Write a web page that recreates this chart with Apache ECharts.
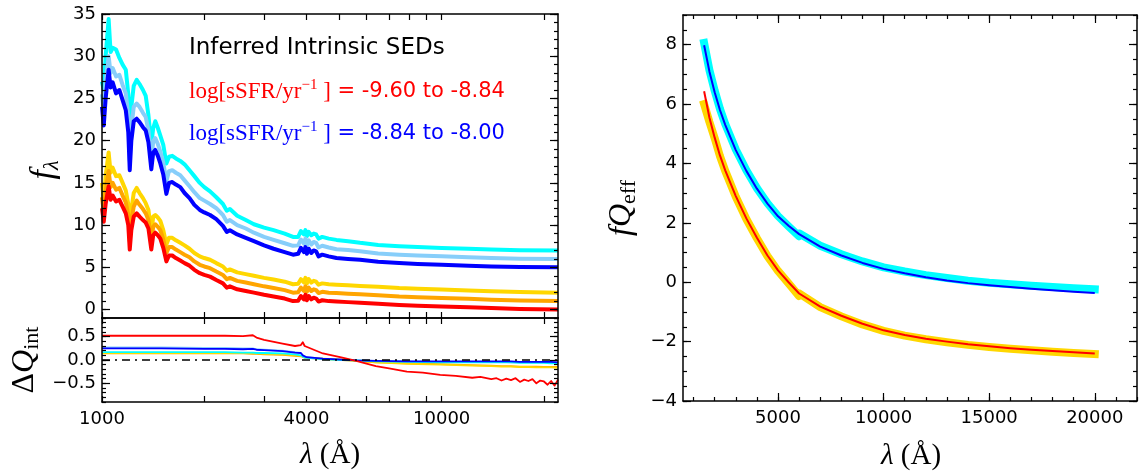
<!DOCTYPE html>
<html><head><meta charset="utf-8">
<script src="https://cdn.jsdelivr.net/npm/echarts@6/dist/echarts.min.js"></script>
<style>html,body{margin:0;padding:0;background:#fff}#c{width:1139px;height:472px}</style>
</head><body><div id="c"></div>
<script>
// ---------- Left top panel: intrinsic SEDs ----------
const lamSED = [1000,1012,1025,1046,1060,1075,1100,1125,1150,1175,1195,1207,1220,1240,1265,1290,1320,1345,1370,1397,1415,1435,1460,1485,1515,1547,1575,1610,1650,1700,1750,1810,1870,1940,2000,2080,2170,2270,2330,2380,2500,2650,2800,3000,3200,3450,3650,3780,3850,3930,3970,4010,4060,4130,4200,4270,4340,4450,4650,4900,5300,5750,6500,7500,8500,10000,12000,14000,17000,22000];
const sedCyan = [27.0,26.0,30.0,34.4,30.5,31.0,30.8,29.8,29.0,28.4, 25.5,19.8,24.0,26.5,27.2,26.7,26.0,25.3,23.0,19.5, 21.5,22.3,21.5,20.6,19.5,17.3,18.1,18.2,17.9,17.6, 17.2,16.5,15.8,15.0,14.5,14.0,13.3,12.5,11.7,11.9, 11.1,10.6,10.1,9.7,9.4,9.0,8.6,8.6,9.3,8.9, 9.4,8.7,9.2,8.8,9.0,8.9,8.4,8.6,8.4,8.25, 8.1,7.9,7.65,7.5,7.4,7.3,7.2,7.1,7.03,7.0];
const sedLightBlue = [25.5,23.5,27.0,30.0,28.0,28.6,27.6,27.8,26.6,25.6, 23.0,17.6,21.5,24.0,24.4,24.0,23.3,22.8,21.2,17.7, 19.9,20.3,19.6,18.7,17.4,15.2,16.4,16.5,16.2,15.9, 15.3,14.6,13.9,13.2,12.9,12.5,12.0,11.2,10.4,10.6, 10.0,9.6,9.1,8.6,8.25,7.85,7.55,7.6,8.3,7.8, 8.4,7.6,8.2,7.7,8.0,7.9,7.35,7.55,7.35,7.15, 7.05,6.9,6.65,6.5,6.4,6.3,6.2,6.1,6.03,6.0];
const sedBlue = [24.0,21.8,25.0,28.4,26.3,26.9,25.6,26.0,24.8,23.6, 21.0,16.5,20.0,22.3,22.6,22.2,21.6,21.2,19.8,16.6, 18.6,18.9,18.2,17.3,16.0,13.7,15.0,15.1,14.8,14.5, 13.8,13.2,12.4,11.8,11.5,11.2,10.7,9.9,9.2,9.4, 8.9,8.5,8.1,7.6,7.2,6.8,6.5,6.6,7.3,6.8, 7.4,6.6,7.2,6.7,7.0,6.9,6.3,6.5,6.3,6.1, 6.0,5.9,5.65,5.5,5.4,5.3,5.2,5.1,5.03,5.0];
const sedGold = [15.0,13.0,15.8,18.6,16.2,16.8,15.8,15.9,15.0,14.1, 12.5,9.2,11.8,13.8,14.4,13.8,13.2,12.6,11.8,9.1, 11.0,11.2,10.9,10.5,9.4,7.7,8.5,8.5,8.2,7.9, 7.6,7.2,6.7,6.3,6.1,5.9,5.5,5.1,4.6,4.75, 4.4,4.2,4.0,3.75,3.55,3.3,3.0,3.05,3.6,3.2, 3.75,3.1,3.6,3.2,3.4,3.3,2.95,3.1,3.0,2.95, 2.88,2.8,2.7,2.55,2.47,2.37,2.27,2.17,2.08,2.0];
const sedOrange = [13.3,11.6,14.0,16.4,14.5,15.0,14.2,14.4,13.5,12.7, 11.2,8.1,10.5,12.2,12.9,12.4,11.9,11.4,10.6,8.1, 9.8,10.1,9.8,9.4,8.3,6.7,7.4,7.4,7.1,6.8, 6.5,6.2,5.7,5.3,5.1,4.9,4.5,4.1,3.6,3.75, 3.4,3.2,3.0,2.75,2.55,2.3,2.0,2.05,2.6,2.2, 2.75,2.1,2.6,2.2,2.4,2.3,1.95,2.1,2.0,1.95, 1.88,1.8,1.7,1.55,1.47,1.37,1.27,1.17,1.08,1.0];
const sedRed = [12.0,10.4,12.5,14.6,13.0,13.5,12.8,13.0,12.2,11.4, 10.0,7.1,9.4,11.0,11.4,11.0,10.6,10.3,9.6,7.1, 8.8,9.1,8.8,8.4,7.3,5.7,6.4,6.4,6.1,5.8, 5.5,5.2,4.7,4.3,4.1,3.9,3.5,3.1,2.6,2.75, 2.4,2.2,2.0,1.75,1.55,1.3,1.0,1.05,1.6,1.2, 1.75,1.1,1.6,1.2,1.4,1.3,0.95,1.1,1.0,0.95, 0.88,0.8,0.7,0.55,0.46,0.36,0.26,0.17,0.08,0.0];

// ---------- Left bottom panel: Delta Q_int ----------
const lamDQ = [1000,1500,2000,2300,2600,2780,2850,3000,3400,3700,3850,3900,3950,4000,4470,5100,5600,6400,7900,9900,12300,14000,15000,16000,17000,18000,19000,20000,21000,22000];
const dqBlue = [0.25,0.25,0.24,0.24,0.23,0.24,0.22,0.21,0.19,0.16,0.15,0.10,0.08,0.06,0.03,0.01,-0.01,-0.02,-0.03,-0.03,-0.03,-0.03,-0.03,-0.03,-0.04,-0.04,-0.04,-0.04,-0.04,-0.05];
const dqLightBlue = [0.27,0.27,0.26,0.26,0.25,0.25,0.23,0.22,0.20,0.17,0.15,0.10,0.08,0.06,0.03,0.01,-0.01,-0.02,-0.03,-0.04,-0.04,-0.04,-0.04,-0.05,-0.05,-0.05,-0.05,-0.05,-0.06,-0.06];
const dqCyan = [0.17,0.17,0.17,0.17,0.16,0.16,0.15,0.15,0.14,0.12,0.10,0.06,0.05,0.04,0.02,0.00,-0.01,-0.03,-0.04,-0.05,-0.05,-0.05,-0.05,-0.05,-0.06,-0.06,-0.06,-0.06,-0.07,-0.07];
const dqGold = [0.15,0.15,0.15,0.15,0.15,0.14,0.14,0.13,0.12,0.10,0.09,0.06,0.05,0.05,0.03,0.01,-0.02,-0.05,-0.08,-0.10,-0.12,-0.13,-0.14,-0.14,-0.15,-0.15,-0.16,-0.16,-0.16,-0.17];
const dqOrange = [0.14,0.14,0.14,0.14,0.14,0.13,0.13,0.12,0.11,0.09,0.08,0.05,0.05,0.04,0.02,0.00,-0.02,-0.05,-0.07,-0.09,-0.11,-0.12,-0.13,-0.13,-0.14,-0.14,-0.14,-0.15,-0.15,-0.15];
const lamDQRed = [1000,1500,2000,2300,2600,2780,2850,3000,3400,3700,3850,3900,3950,4000,4470,5100,5600,6400,7000,7900,8800,9900,11000,12300,13000,14000,14500,15000,15500,16000,16500,17000,17500,18000,18500,19000,19500,20000,20500,21000,21500,22000];
const dqRed = [0.52,0.52,0.52,0.52,0.51,0.53,0.48,0.43,0.35,0.30,0.32,0.38,0.30,0.27,0.14,0.05,-0.02,-0.13,-0.18,-0.25,-0.27,-0.32,-0.34,-0.38,-0.36,-0.41,-0.39,-0.44,-0.40,-0.43,-0.39,-0.47,-0.42,-0.45,-0.41,-0.50,-0.44,-0.46,-0.53,-0.45,-0.55,-0.42];
const lamZero = [1000,22000];
const zeroLine = [0,0];

// ---------- Right panel: f Q_eff ----------
const lamQ = [1500,1750,2000,2250,2500,3000,3500,4000,4500,5000,5500,6000,7000,8000,9000,10000,11000,12000,13000,14000,15000,16000,17000,18000,19000,20000];
const qBlue = [7.98,7.1,6.4,5.8,5.3,4.45,3.75,3.15,2.65,2.22,1.9,1.62,1.2,0.9,0.65,0.45,0.3,0.17,0.06,-0.03,-0.1,-0.16,-0.22,-0.27,-0.32,-0.36];
const qRed = [6.43,5.55,4.87,4.27,3.77,2.9,2.15,1.5,0.9,0.4,0.0,-0.38,-0.82,-1.13,-1.4,-1.62,-1.78,-1.9,-2.0,-2.09,-2.16,-2.22,-2.27,-2.32,-2.36,-2.4];
// thick bands: a small step where the two pieces meet near 6000
const lamQBand = [1500,1750,2000,2250,2500,3000,3500,4000,4500,5000,5500,5990,6010,7000,8000,9000,10000,11000,12000,13000,14000,15000,16000,17000,18000,19000,20000];
const qCyan = [8.06,7.15,6.45,5.84,5.33,4.47,3.77,3.17,2.66,2.23,1.88,1.55,1.64,1.23,0.94,0.7,0.5,0.36,0.24,0.14,0.05,-0.02,-0.07,-0.12,-0.16,-0.2,-0.24];
const qGold = [6.0,5.4,4.85,4.25,3.75,2.88,2.13,1.48,0.88,0.38,-0.04,-0.46,-0.38,-0.84,-1.15,-1.42,-1.64,-1.8,-1.92,-2.02,-2.11,-2.18,-2.24,-2.29,-2.34,-2.38,-2.42];

// ---------- Tick values ----------
const leftXTicks = [1000,2000,3000,4000,5000,6000,7000,8000,9000,10000,20000];
const leftXLabels = [1000,4000,10000];
const sedYLabels = [0,5,10,15,20,25,30,35];
const sedYMinor = []; for (let v = -1; v <= 35; v++) sedYMinor.push(v);
const dqYLabels = [-0.5,0,0.5];
const dqYMinor = []; for (let i = -9; i <= 9; i++) dqYMinor.push(i/10);
const rightXLabels = [5000,10000,15000,20000];
const rightXMinor = []; for (let v = 1000; v <= 22000; v += 1000) rightXMinor.push(v);
const rightYLabels = [-4,-2,0,2,4,6,8];
const rightYMinor = []; for (let i = -8; i <= 18; i++) rightYMinor.push(i/2);

const zip = (xs, ys) => xs.map((x, i) => [x, ys[i]]);
const minus = s => s.replace('-', '\u2212');

function axis(o) {
  const a = {
    type: o.type || 'value', gridIndex: o.grid, position: o.pos, min: o.min, max: o.max,
    axisLine: {show: o.line !== false, onZero: false, lineStyle: {color: '#000', width: 1.5}},
    axisTick: o.ticks ? {show: true, inside: true, length: o.len, customValues: o.ticks, lineStyle: {color: '#000', width: 1.2}} : {show: false},
    axisLabel: o.labels ? {show: true, customValues: o.labels, formatter: o.fmt, color: '#000', fontFamily: 'DejaVu Sans', fontSize: 18, margin: o.margin} : {show: false},
    splitLine: {show: false}, minorTick: {show: false}, minorSplitLine: {show: false},
    axisPointer: {show: false}, silent: true, z: 10
  };
  if (a.type === 'log') a.logBase = 10;
  return a;
}

const xAxes = [
  axis({grid: 0, pos: 'bottom', type: 'log', min: 1000, max: 22000, ticks: leftXTicks, len: 6}),
  axis({grid: 0, pos: 'top', type: 'log', min: 1000, max: 22000, ticks: leftXTicks, len: 6}),
  axis({grid: 1, pos: 'bottom', type: 'log', min: 1000, max: 22000, ticks: leftXTicks, len: 6, labels: leftXLabels, fmt: v => String(Math.round(v)), margin: 8}),
  axis({grid: 1, pos: 'top', type: 'log', min: 1000, max: 22000, ticks: leftXTicks, len: 6}),
  axis({grid: 2, pos: 'bottom', min: 500, max: 22000, ticks: rightXLabels, len: 8, labels: rightXLabels, fmt: v => String(v), margin: 8}),
  axis({grid: 2, pos: 'bottom', min: 500, max: 22000, ticks: rightXMinor, len: 4, line: false}),
  axis({grid: 2, pos: 'top', min: 500, max: 22000, ticks: rightXLabels, len: 8}),
  axis({grid: 2, pos: 'top', min: 500, max: 22000, ticks: rightXMinor, len: 4, line: false})
];
const yAxes = [
  axis({grid: 0, pos: 'left', min: -1, max: 35, ticks: sedYLabels, len: 8, labels: sedYLabels, fmt: v => String(v), margin: 6}),
  axis({grid: 0, pos: 'left', min: -1, max: 35, ticks: sedYMinor, len: 4, line: false}),
  axis({grid: 0, pos: 'right', min: -1, max: 35, ticks: sedYLabels, len: 8}),
  axis({grid: 0, pos: 'right', min: -1, max: 35, ticks: sedYMinor, len: 4, line: false}),
  axis({grid: 1, pos: 'left', min: -0.9, max: 0.9, ticks: dqYLabels, len: 8, labels: dqYLabels, fmt: v => minus(v.toFixed(1)), margin: 6}),
  axis({grid: 1, pos: 'left', min: -0.9, max: 0.9, ticks: dqYMinor, len: 4, line: false}),
  axis({grid: 1, pos: 'right', min: -0.9, max: 0.9, ticks: dqYLabels, len: 8}),
  axis({grid: 1, pos: 'right', min: -0.9, max: 0.9, ticks: dqYMinor, len: 4, line: false}),
  axis({grid: 2, pos: 'left', min: -4, max: 9, ticks: rightYLabels, len: 8, labels: rightYLabels, fmt: v => minus(String(v)), margin: 6}),
  axis({grid: 2, pos: 'left', min: -4, max: 9, ticks: rightYMinor, len: 4, line: false}),
  axis({grid: 2, pos: 'right', min: -4, max: 9, ticks: rightYLabels, len: 8}),
  axis({grid: 2, pos: 'right', min: -4, max: 9, ticks: rightYMinor, len: 4, line: false})
];

function line(xi, yi, xs, ys, color, width, extra) {
  return Object.assign({
    type: 'line', xAxisIndex: xi, yAxisIndex: yi, data: zip(xs, ys),
    showSymbol: false, symbol: 'none', silent: true, animation: false, clip: true,
    lineStyle: {color: color, width: width, cap: 'butt', join: 'round'}
  }, extra || {});
}

const series = [
  line(0, 0, lamSED, sedCyan, '#00ffff', 4),
  line(0, 0, lamSED, sedLightBlue, '#87cefa', 4),
  line(0, 0, lamSED, sedBlue, '#0000ff', 4),
  line(0, 0, lamSED, sedGold, '#ffd700', 4),
  line(0, 0, lamSED, sedOrange, '#ffa500', 4),
  line(0, 0, lamSED, sedRed, '#ff0000', 4),

  line(2, 4, lamDQ, dqOrange, '#ffa500', 1.8),
  line(2, 4, lamDQ, dqLightBlue, '#87cefa', 1.8),
  line(2, 4, lamDQ, dqGold, '#ffd700', 1.8),
  line(2, 4, lamDQ, dqCyan, '#00ffff', 1.8),
  line(2, 4, lamDQ, dqBlue, '#0000ff', 1.8),
  line(2, 4, lamDQRed, dqRed, '#ff0000', 1.8),
  line(2, 4, lamZero, zeroLine, '#000000', 1.5, {lineStyle: {color: '#000', width: 1.5, type: [8, 5, 2, 5]}, z: 5}),

  line(4, 8, lamQBand, qCyan, '#00ffff', 8, {lineStyle: {color: '#00ffff', width: 8, cap: 'square', join: 'round'}}),
  line(4, 8, lamQ, qBlue, '#0000ff', 2),
  line(4, 8, lamQBand, qGold, '#ffd700', 8, {lineStyle: {color: '#ffd700', width: 8, cap: 'square', join: 'round'}}),
  line(4, 8, lamQ, qRed, '#ff0000', 2)
];

const serif = 'Liberation Serif';
const legendRich = c => ({
  s: {fontFamily: serif, fontSize: 23, fill: c, lineHeight: 28},
  p: {fontFamily: serif, fontSize: 15, fill: c, lineHeight: 16, verticalAlign: 'top'},
  n: {fontFamily: 'DejaVu Sans', fontSize: 21, fill: c, lineHeight: 28}
});

const graphic = [
  {type: 'text', x: 189, y: 48, style: {text: 'Inferred Intrinsic SEDs', fontFamily: 'DejaVu Sans', fontSize: 23, fill: '#000', align: 'left', verticalAlign: 'middle'}},
  {type: 'text', x: 189, y: 92, style: {text: '{s|log[sSFR/yr}{p|\u22121}{s| ]}{n| = -9.60 to -8.84}', align: 'left', verticalAlign: 'middle', rich: legendRich('#ff0000')}},
  {type: 'text', x: 189, y: 133.5, style: {text: '{s|log[sSFR/yr}{p|\u22121}{s| ]}{n| = -8.84 to -8.00}', align: 'left', verticalAlign: 'middle', rich: legendRich('#0000ff')}},
  {type: 'text', x: 44, y: 170, rotation: Math.PI / 2, style: {text: '{f|f}{b|\u03bb}', align: 'center', verticalAlign: 'middle', rich: {
    f: {fontFamily: serif, fontStyle: 'italic', fontSize: 34, lineHeight: 38, fill: '#000'},
    b: {fontFamily: serif, fontStyle: 'italic', fontSize: 22, lineHeight: 22, verticalAlign: 'bottom', fill: '#000'}}}},
  {type: 'text', x: 25, y: 360, rotation: Math.PI / 2, style: {text: '{d|\u0394}{q|Q}{b|int}', align: 'center', verticalAlign: 'middle', rich: {
    d: {fontFamily: serif, fontSize: 32, lineHeight: 36, fill: '#000'},
    q: {fontFamily: serif, fontStyle: 'italic', fontSize: 32, lineHeight: 36, fill: '#000'},
    b: {fontFamily: serif, fontSize: 22, lineHeight: 22, verticalAlign: 'bottom', fill: '#000'}}}},
  {type: 'text', x: 330, y: 455, style: {text: '{l|\u03bb}{r| (\u00c5)}', align: 'center', verticalAlign: 'middle', rich: {
    l: {fontFamily: serif, fontStyle: 'italic', fontSize: 29, fill: '#000'},
    r: {fontFamily: serif, fontSize: 29, fill: '#000'}}}},
  {type: 'text', x: 911, y: 456, style: {text: '{l|\u03bb}{r| (\u00c5)}', align: 'center', verticalAlign: 'middle', rich: {
    l: {fontFamily: serif, fontStyle: 'italic', fontSize: 29, fill: '#000'},
    r: {fontFamily: serif, fontSize: 29, fill: '#000'}}}},
  {type: 'text', x: 622, y: 208, rotation: Math.PI / 2, style: {text: '{f|fQ}{b|eff}', align: 'center', verticalAlign: 'middle', rich: {
    f: {fontFamily: serif, fontStyle: 'italic', fontSize: 32, lineHeight: 36, fill: '#000'},
    b: {fontFamily: serif, fontSize: 22, lineHeight: 22, verticalAlign: 'bottom', fill: '#000'}}}}
];

const chart = echarts.init(document.getElementById('c'), null, {renderer: 'canvas'});
chart.setOption({
  animation: false,
  backgroundColor: '#fff',
  grid: [
    {left: 102, top: 14, width: 456, height: 304},
    {left: 102, top: 318, width: 456, height: 84},
    {left: 683, top: 15, width: 454, height: 386}
  ],
  xAxis: xAxes,
  yAxis: yAxes,
  series: series,
  graphic: graphic
});
</script></body></html>
